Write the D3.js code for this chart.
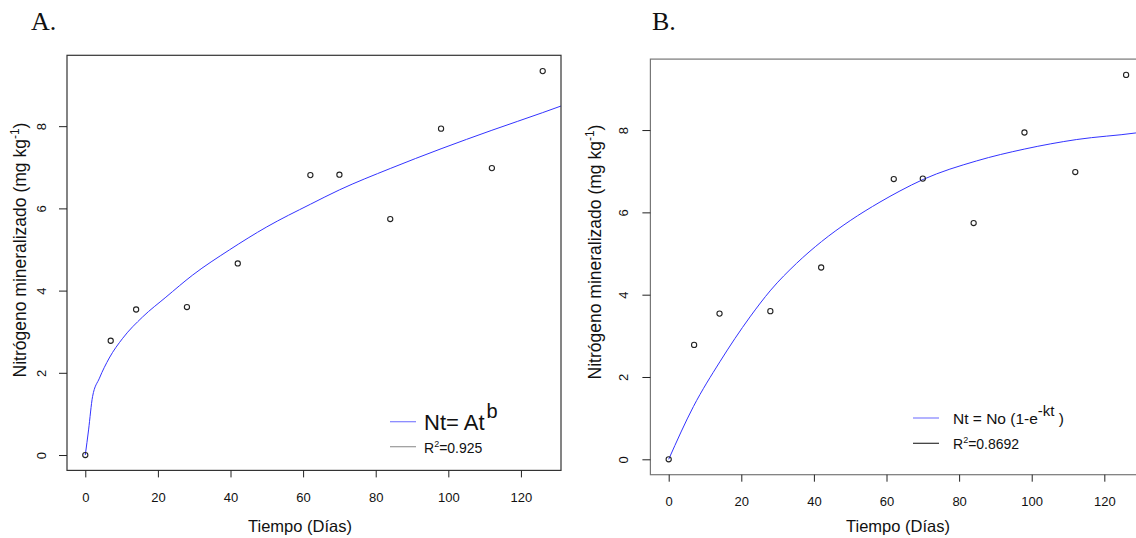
<!DOCTYPE html>
<html>
<head>
<meta charset="utf-8">
<script src="https://cdn.jsdelivr.net/npm/d3@7"></script>
<style>
  body { margin: 0; background: #fff; }
  text { font-family: "Liberation Sans", Arial, sans-serif; fill: #111; }
</style>
</head>
<body>
<div id="chart"></div>
<script>
// Observed data (same for both panels)
const days = [0, 7, 14, 28, 42, 62, 70, 84, 98, 112, 126];
const nitrogen = [0, 2.78, 3.54, 3.60, 4.66, 6.81, 6.82, 5.74, 7.94, 6.98, 9.34];

// Fitted curve A (Nt = At^b)
const powerDays = [0, 0.9, 2, 3.9, 6.6, 10.3, 15.8, 22.2, 29.6, 39.7, 50, 62, 70, 84, 98, 112, 126, 131.04];
const powerN = [0, 0.61, 1.42, 1.87, 2.36, 2.84, 3.36, 3.84, 4.38, 4.99, 5.55, 6.10, 6.45, 6.97, 7.45, 7.90, 8.33, 8.49];

// Fitted curve B (Nt = No(1-e^-kt))
const expDays = [0, 6.8, 14.1, 22.4, 28.1, 35.2, 42.1, 50, 58.2, 63.7, 70.1, 84.8, 98.1, 112.4, 128.7, 131.04];
const expN = [0, 1.28, 2.37, 3.46, 4.11, 4.76, 5.29, 5.80, 6.25, 6.52, 6.80, 7.25, 7.54, 7.77, 7.93, 7.96];

const xTicks = [0, 20, 40, 60, 80, 100, 120];
const yTicks = [0, 2, 4, 6, 8];

const width = 1136;
const height = 538;

const svg = d3.select("#chart").append("svg")
  .attr("width", width)
  .attr("height", height);

// R-style domains: data range padded by 4%
const xDomain = [-5.04, 131.04];
const yDomain = [-0.374, 9.724];
const plotWidth = 494;

function drawPanel(p) {
  const x = d3.scaleLinear().domain(xDomain).range([p.left, p.left + plotWidth]);
  const y = d3.scaleLinear().domain(yDomain).range([p.bottom, p.top]);

  // Panel letter
  svg.append("text")
    .attr("x", p.letterX)
    .attr("y", 30)
    .style("font-family", "'Liberation Serif', 'Times New Roman', serif")
    .style("font-size", "26px")
    .text(p.letter);

  // Fitted curve
  const line = d3.line()
    .x((d, i) => x(p.curveDays[i]))
    .y(d => y(d))
    .curve(d3.curveMonotoneX);

  svg.append("path")
    .datum(p.curveN)
    .attr("fill", "none")
    .attr("stroke", "#3333ff")
    .attr("stroke-width", 1)
    .attr("d", line);

  // Points
  svg.append("g").selectAll("circle")
    .data(nitrogen)
    .enter()
    .append("circle")
      .attr("cx", (d, i) => x(days[i]))
      .attr("cy", d => y(d))
      .attr("r", 2.6)
      .attr("fill", "none")
      .attr("stroke", "#222")
      .attr("stroke-width", 1.1);

  // Box
  svg.append("rect")
    .attr("x", p.left)
    .attr("y", p.top)
    .attr("width", plotWidth)
    .attr("height", p.bottom - p.top)
    .attr("fill", "none")
    .attr("stroke", p.boxColor)
    .attr("stroke-width", 1.2);

  // X axis
  const xAxis = svg.append("g")
    .attr("transform", `translate(0, ${p.bottom})`)
    .call(d3.axisBottom(x).tickValues(xTicks).tickSize(7).tickPadding(p.xPad).tickFormat(d3.format("d")));
  xAxis.select(".domain").remove();
  xAxis.selectAll("line").attr("stroke", "#222");
  xAxis.selectAll("text")
    .style("font-family", "'Liberation Sans', Arial, sans-serif")
    .style("font-size", "13px")
    .attr("fill", "#111");

  // Y axis (labels rotated like R las=0)
  const yAxis = svg.append("g")
    .attr("transform", `translate(${p.left}, 0)`)
    .call(d3.axisLeft(y).tickValues(yTicks).tickSize(8).tickFormat(d3.format("d")));
  yAxis.select(".domain").remove();
  yAxis.selectAll("line").attr("stroke", "#222");
  yAxis.selectAll("text")
    .style("font-family", "'Liberation Sans', Arial, sans-serif")
    .style("font-size", "13px")
    .attr("fill", "#111")
    .attr("x", null)
    .attr("dy", null)
    .attr("text-anchor", "middle")
    .attr("transform", `translate(${p.yLabelX - p.left}, 0) rotate(-90)`);

  // Axis titles
  svg.append("text")
    .attr("x", p.xTitleX)
    .attr("y", 532)
    .attr("text-anchor", "middle")
    .style("font-size", "16.5px")
    .text("Tiempo (Días)");

  const yt = svg.append("text")
    .attr("transform", `translate(${p.yTitleX}, ${p.yTitleY}) rotate(-90)`)
    .attr("text-anchor", "middle")
    .style("font-size", "17.5px");
  yt.append("tspan").text("Nitrógeno mineralizado (mg kg");
  yt.append("tspan").attr("dy", -7).style("font-size", "12px").text("-1");
  yt.append("tspan").attr("dy", 7).text(")");

  // Legend
  const lg = svg.append("g").attr("transform", `translate(${p.legendX}, ${p.legendY})`);
  lg.append("line")
    .attr("x1", 0).attr("x2", 26).attr("y1", 0).attr("y2", 0)
    .attr("stroke", "#8080ff").attr("stroke-width", 1.2);
  lg.append("line")
    .attr("x1", 0).attr("x2", 26).attr("y1", p.legendGap).attr("y2", p.legendGap)
    .attr("stroke", p.r2LineColor).attr("stroke-width", 1.2);

  const t1 = lg.append("text")
    .attr("x", p.legendTextDx)
    .attr("y", p.eqBaseline)
    .style("font-size", p.eqSize + "px");
  p.equation(t1);

  const t2 = lg.append("text")
    .attr("x", p.legendTextDx)
    .attr("y", p.legendGap + 6)
    .style("font-size", "14px");
  t2.append("tspan").text("R");
  t2.append("tspan").attr("dy", -6).style("font-size", "9px").text("2");
  t2.append("tspan").attr("dy", 6).text("=" + p.r2);
}

drawPanel({
  letter: "A.", letterX: 31,
  left: 67, top: 55.3, bottom: 470.4,
  boxColor: "#333", xPad: 15,
  curveDays: powerDays, curveN: powerN,
  yLabelX: 46, yTitleX: 26, yTitleY: 250, xTitleX: 300,
  legendX: 390, legendY: 421.7, legendGap: 25, legendTextDx: 34,
  eqBaseline: 8, eqSize: 22,
  equation: t => {
    t.append("tspan").text("Nt= At");
    t.append("tspan").attr("dy", -12).attr("dx", 2).style("font-size", "20px").text("b");
  },
  r2LineColor: "#999", r2: "0.925"
});

drawPanel({
  letter: "B.", letterX: 652,
  left: 650.4, top: 59.1, bottom: 474.7,
  boxColor: "#777", xPad: 15,
  curveDays: expDays, curveN: expN,
  yLabelX: 628, yTitleX: 601, yTitleY: 252, xTitleX: 898,
  legendX: 913, legendY: 418, legendGap: 25.3, legendTextDx: 40,
  eqBaseline: 5.5, eqSize: 15.5,
  equation: t => {
    t.append("tspan").text("Nt = No (1-e");
    t.append("tspan").attr("dy", -8).style("font-size", "15px").text("-kt");
    t.append("tspan").attr("dy", 8).text(" )");
  },
  r2LineColor: "#333", r2: "0.8692"
});
</script>
</body>
</html>
